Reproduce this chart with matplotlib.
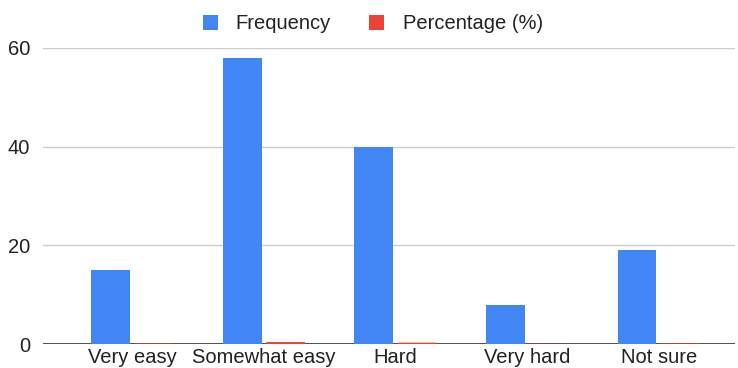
import numpy as np
import matplotlib
matplotlib.use("Agg")
import matplotlib.pyplot as plt

plt.rcParams['font.family'] = ['Liberation Sans', 'DejaVu Sans']

categories = ["Very easy", "Somewhat easy", "Hard", "Very hard", "Not sure"]
frequency = [15, 58, 40, 8, 19]
percentage = [0.11, 0.41, 0.29, 0.06, 0.14]
y_ticks = [0, 20, 40, 60]

blue = "#4285F4"
red = "#EA4335"

fig = plt.figure(figsize=(7.38, 3.68), dpi=100)
ax = fig.add_axes([0.058, 0.065, 0.938, 0.805])

x = np.arange(len(categories))
w = 0.295
ax.axhline(0, color="#333333", linewidth=1.2, zorder=2)
ax.bar(x - 0.165, frequency, width=w, color=blue, label="Frequency", zorder=3)
ax.bar(x + 0.165, percentage, width=w, color=red, label="Percentage (%)",
       zorder=3, snap=False)

ax.set_xlim(-0.68, 4.58)
ax.set_ylim(0, 60)
ax.set_yticks(y_ticks)
ax.set_xticks(x)
ax.set_xticklabels(categories)
ax.grid(axis="y", color="#cccccc", linewidth=1, zorder=0)
for s in ax.spines.values():
    s.set_visible(False)
ax.tick_params(axis="both", length=0, labelsize=14.5, colors="#222222")
ax.tick_params(axis="x", pad=3)
ax.tick_params(axis="y", pad=9)

fig.legend(loc="upper center", bbox_to_anchor=(0.505, 1.01), ncol=2, frameon=False,
           fontsize=14.5, handlelength=0.75, handleheight=0.75, columnspacing=1.9,
           handletextpad=0.9, labelcolor="#222222")

fig.savefig("out.png", dpi=100)
